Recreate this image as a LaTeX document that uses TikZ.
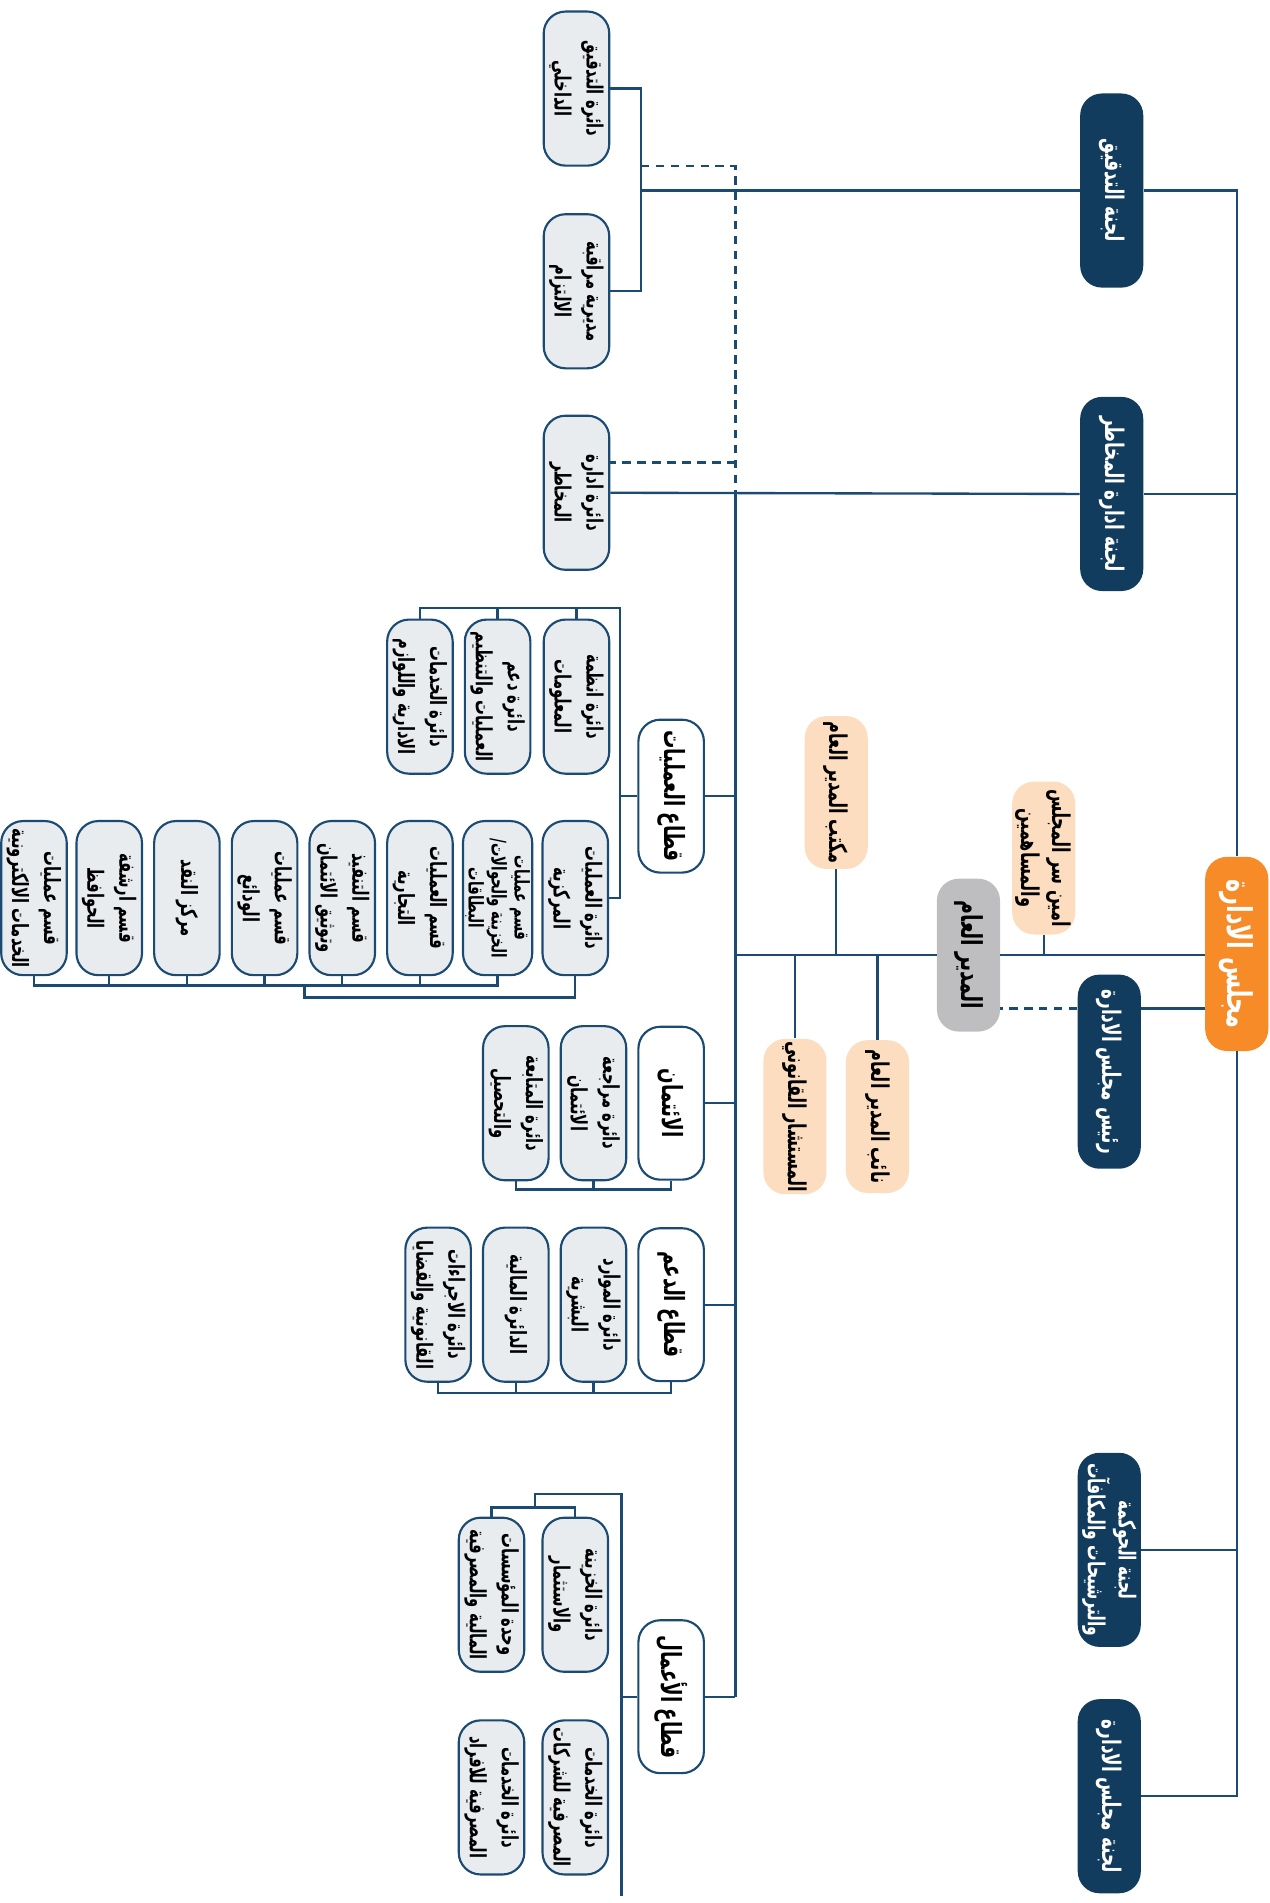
\documentclass[tikz,border=0pt]{standalone}
\usepackage{fontspec}
\usepackage{tikz}
\newfontfamily\arabicfont[Script=Arabic,FakeStretch=0.66]{DejaVu Sans}
\TeXXeTstate=1
\newcommand{\ar}[1]{\beginR #1\endR}
\definecolor{boardnavy}{HTML}{123C5E}
\definecolor{linkblue}{HTML}{1B4A72}
\definecolor{deptfill}{HTML}{E8ECEF}
\definecolor{staffpeach}{HTML}{FDDDBF}
\definecolor{boardorange}{HTML}{F68B28}
\definecolor{gmgray}{HTML}{BEBEC0}
\tikzset{every picture/.append style={x=0.02cm, y=-0.02cm}}
\tikzset{box/.style={rotate=-90, rounded corners=0.36cm, align=center, inner sep=1pt, font=\arabicfont\bfseries\fontsize{10.5}{15}\selectfont}}
\tikzset{committee/.style={box, fill=boardnavy, text=white, minimum width=3.2cm, minimum height=1.04cm, font=\arabicfont\bfseries\fontsize{12}{15}\selectfont}}
\tikzset{boardbox/.style={box, fill=boardorange, text=white, minimum width=3.2cm, minimum height=1.04cm, font=\arabicfont\bfseries\fontsize{16}{18}\selectfont}}
\tikzset{gmbox/.style={box, fill=gmgray, minimum width=2.52cm, minimum height=1.04cm, font=\arabicfont\bfseries\fontsize{13.5}{16}\selectfont}}
\tikzset{staff/.style={box, fill=staffpeach, minimum width=2.52cm, minimum height=1.04cm, font=\arabicfont\bfseries\fontsize{11.5}{14.5}\selectfont}}
\tikzset{sector/.style={box, draw=linkblue, fill=white, line width=1pt, minimum width=2.52cm, minimum height=1.08cm, font=\arabicfont\bfseries\fontsize{13}{16}\selectfont}}
\tikzset{dept/.style={box, draw=linkblue, fill=deptfill, line width=1pt, minimum width=2.54cm, minimum height=1.08cm}}
\tikzset{link/.style={draw=linkblue, line width=1.1pt}}
\tikzset{dashlink/.style={link, dash pattern=on 4pt off 3pt}}

\begin{document}
\begin{tikzpicture}
\useasboundingbox (0,0) rectangle (1046,1568);

\node (board) at (1019,786)[boardbox]{\ar{مجلس الادارة}};
\node (audit) at (916,157)[committee]{\ar{لجنة التدقيق}};
\node (riskc) at (916,407)[committee]{\ar{لجنة ادارة المخاطر}};
\node (chair) at (914,883)[committee]{\ar{رئيس مجلس الادارة}};
\node (gov) at (914,1277)[committee, font=\arabicfont\bfseries\fontsize{11}{14.5}\selectfont]{\ar{لجنة الحوكمة}\\\ar{والترشيحات والمكافآت}};
\node (boardc) at (914,1480)[committee]{\ar{لجنة مجلس الادارة}};

\node (gm) at (798,787)[gmbox]{\ar{المدير العام}};
\node (sec) at (860,707)[staff]{\ar{امين سر المجلس}\\\ar{والمساهمين}};
\node (office) at (689,653)[staff]{\ar{مكتب المدير العام}};
\node (deputy) at (723,920)[staff]{\ar{نائب المدير العام}};
\node (legal) at (655,920)[staff]{\ar{المستشار القانوني}};

\node (ops) at (553,656)[sector]{\ar{قطاع العمليات}};
\node (cred) at (553,909)[sector]{\ar{الائتمان}};
\node (sup) at (553,1075)[sector]{\ar{قطاع الدعم}};
\node (bus) at (553,1398)[sector]{\ar{قطاع الأعمال}};

\node (iad) at (475,73)[dept]{\ar{دائرة التدقيق}\\\ar{الداخلي}};
\node (comp) at (475,240)[dept]{\ar{مديرية مراقبة}\\\ar{الالتزام}};
\node (riskd) at (475,406)[dept]{\ar{دائرة ادارة}\\\ar{المخاطر}};

\node (ais) at (475,574)[dept]{\ar{دائرة انظمة}\\\ar{المعلومات}};
\node (dso) at (410,574)[dept]{\ar{دائرة دعم}\\\ar{العمليات والتنظيم}};
\node (das) at (346,574)[dept]{\ar{دائرة الخدمات}\\\ar{الادارية واللوازم}};
\node (cor) at (474,740)[dept]{\ar{دائرة العمليات}\\\ar{المركزية}};
\node (tre) at (410,740)[dept, font=\arabicfont\bfseries\fontsize{9.5}{10.8}\selectfont]{\ar{قسم عمليات}\\\ar{الخزينة والحوالات/}\\\ar{البطاقات}};
\node (com) at (346,740)[dept]{\ar{قسم العمليات}\\\ar{التجارية}};
\node (exe) at (282,740)[dept]{\ar{قسم التنفيذ}\\\ar{وتوثيق الائتمان}};
\node (dep) at (218,740)[dept]{\ar{قسم عمليات}\\\ar{الودائع}};
\node (cash) at (154,740)[dept]{\ar{مركز النقد}};
\node (arc) at (90,740)[dept]{\ar{قسم ارشفة}\\\ar{الحوافظ}};
\node (ele) at (28,740)[dept]{\ar{قسم عمليات}\\\ar{الخدمات الالكترونية}};

\node (crr) at (489,909)[dept]{\ar{دائرة مراجعة}\\\ar{الائتمان}};
\node (fol) at (425,909)[dept]{\ar{دائرة المتابعة}\\\ar{والتحصيل}};

\node (hr) at (489,1075)[dept]{\ar{دائرة الموارد}\\\ar{البشرية}};
\node (fin) at (425,1075)[dept]{\ar{الدائرة المالية}};
\node (leg) at (361,1075)[dept]{\ar{دائرة الاجراءات}\\\ar{القانونية والقضايا}};

\node (trs) at (474,1314)[dept]{\ar{دائرة الخزينة}\\\ar{والاستثمار}};
\node (fiu) at (405,1314)[dept]{\ar{وحدة المؤسسات}\\\ar{المالية والمصرفية}};
\node (corp) at (474,1481)[dept]{\ar{دائرة الخدمات}\\\ar{المصرفية للشركات}};
\node (indiv) at (405,1481)[dept]{\ar{دائرة الخدمات}\\\ar{المصرفية للافراد}};

\coordinate (spine) at (606,0);
\coordinate (chairline) at (0,831);
\coordinate (br1) at (528,0);
\coordinate (dash1) at (528,137);
\coordinate (dash2) at (606,381);
\coordinate (top2) at (511,501);
\coordinate (bot1) at (0,812);
\coordinate (bot2) at (251,822);
\coordinate (top3) at (512,1231);
\coordinate (top4) at (441,1242);
\coordinate (end3) at (512,1562);

%board and its committees
\draw[link] (audit.north) -| (board.west);
\draw[link] (board.east) |- (boardc.north);
\draw[link] (riskc.north) -- (riskc.north -| board);
\draw[link] (gov.north) -- (gov.north -| board);
\draw[link] (chair.north |- chairline) -- (board.south |- chairline);
\draw[dashlink] (chair.south |- chairline) -- (gm.north |- chairline);

%general manager and staff
\draw[link] (gm.north) -- (board.south |- gm);
\draw[link] (gm.south) -- (spine |- gm);
\draw[link] (sec.east) -- (sec.east |- gm);
\draw[link] (office.east) -- (office.east |- gm);
\draw[link] (deputy.west) -- (deputy.west |- gm);
\draw[link] (legal.west) -- (legal.west |- gm);

%audit and risk
\draw[link] (iad.north) -| (br1 |- comp) -- (comp.north);
\draw[link] (audit.south) -- (br1 |- audit);
\draw[link] (riskc.south) -- (riskd.north);
\draw[dashlink] (dash1) -| (spine |- riskc);
\draw[dashlink] (dash2) -- (riskd.north |- dash2);

%sectors
\draw[link] (spine |- riskc) -- (spine |- bus);
\draw[link] (ops.north) -- (spine |- ops);
\draw[link] (cred.north) -- (spine |- cred);
\draw[link] (sup.north) -- (spine |- sup);
\draw[link] (bus.north) -- (spine |- bus);

%operations
\draw[link] (ops.south) -- (top2 |- ops);
\draw[link] (cor.north) -| (top2) -| (das.west);
\draw[link] (ais.west) -- (ais.west |- top2);
\draw[link] (dso.west) -- (dso.west |- top2);
\draw[link] (ele.east) |- (tre.east |- bot1) -- (tre.east);
\draw[link] (com.east) -- (com.east |- bot1);
\draw[link] (exe.east) -- (exe.east |- bot1);
\draw[link] (dep.east) -- (dep.east |- bot1);
\draw[link] (cash.east) -- (cash.east |- bot1);
\draw[link] (arc.east) -- (arc.east |- bot1);
\draw[link] (cor.east) |- (bot2) -- (bot2 |- bot1);

%credit and support
\draw[link] (cred.east) |- (fol.east |- 0,980) -- (fol.east);
\draw[link] (crr.east) -- (crr.east |- 0,980);
\draw[link] (sup.east) |- (leg.east |- 0,1148) -- (leg.east);
\draw[link] (hr.east) -- (hr.east |- 0,1148);
\draw[link] (fin.east) -- (fin.east |- 0,1148);

%business
\draw[link] (bus.south) -- (top3 |- bus);
\draw[link] (end3) -- (top3) -| (top4);
\draw[link] (trs.west) |- (top4) -| (fiu.west);

\end{tikzpicture}
\end{document}
